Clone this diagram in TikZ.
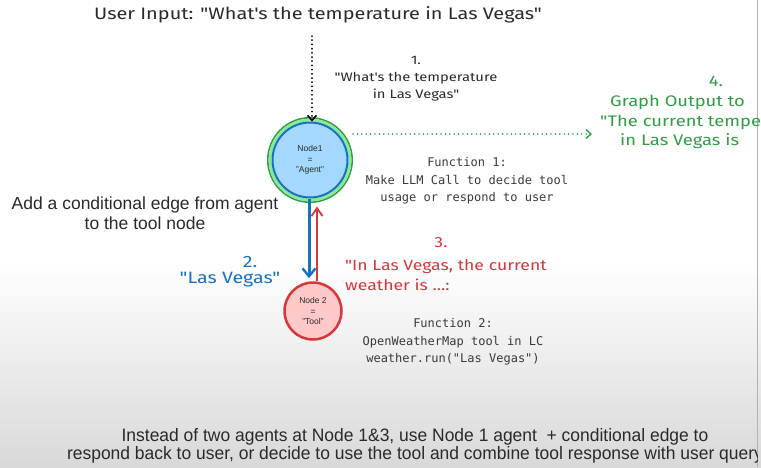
\documentclass[tikz,border=0pt]{standalone}
\usepackage{fontspec}
\setmainfont{Liberation Sans}
\newfontfamily\hand[FakeStretch=1.2]{Fira Sans}
\newfontfamily\monof{DejaVu Sans Mono}
\newfontfamily\narrowf[FakeStretch=0.97]{Liberation Sans}
\usetikzlibrary{arrows.meta}
\definecolor{exblue}{HTML}{1971C2}
\definecolor{exred}{HTML}{D6373A}
\definecolor{exgreen}{HTML}{2F9E44}
\definecolor{lightgreen}{HTML}{8CE99A}
\definecolor{agentfill}{HTML}{A5D8FF}
\definecolor{toolfill}{HTML}{FFC9C9}
\definecolor{inkgray}{HTML}{2A2A2A}
\definecolor{monogray}{HTML}{3A3A3A}
\tikzset{
  handtxt/.style={font=\hand\fontsize{#1}{#1}\selectfont, inner sep=0pt},
  monotxt/.style={font=\monof\fontsize{12}{17.5}\selectfont, text=monogray, align=center, inner sep=0pt},
  sanstxt/.style={font=\fontsize{17.5}{20}\selectfont, text=inkgray, align=center, inner sep=0pt},
  nodetxt/.style={font=\fontsize{8.5}{10.5}\selectfont, text=inkgray, align=center},
}
\begin{document}
\begin{tikzpicture}[x=1pt,y=-1pt]
\useasboundingbox (0,0) rectangle (761,467);
\fill[white] (0,0) rectangle (761,467);
\shade[top color=white, bottom color=black!15] (0,260) rectangle (761,467);
\draw[black!30, line width=1] (757.5,0) -- (757.5,467);

% title
\node[handtxt=16.6, text=inkgray] (title) at (318,15) {User Input: "What's the temperature in Las Vegas"};
% step 1 label
\node[handtxt=12.3, text=inkgray, align=center, font=\hand\fontsize{12.3}{17}\selectfont] (one) at (416,79) {1.\\"What's the temperature\\in Las Vegas"};
% step 4 label
\node[handtxt=15.3, text=exgreen] (four) at (716,81) {4.};
\node[handtxt=15.3, text=exgreen, anchor=west] (fourA) at (610,102) {Graph Output to};
\node[handtxt=15.3, text=exgreen, anchor=west] (fourB) at (600,122) {"The current tempe};
\node[handtxt=15.3, text=exgreen, anchor=west] (fourC) at (620,141) {in Las Vegas is};
% function 1
\node[monotxt] (f1) at (467,181) {Function 1:\\Make LLM Call to decide tool\\usage or respond to user};
% left text
\node[sanstxt] (cond) at (145,213) {Add a conditional edge from agent\\to the tool node};
% step 2
\node[handtxt=16.4, text=exblue] (two) at (250,262) {2.};
\node[handtxt=16.4, text=exblue] (twoB) at (230,280) {"Las Vegas"};
% step 3
\node[handtxt=14.7, text=exred] (three) at (441,243) {3.};
\node[handtxt=14.7, text=exred, anchor=west, align=left, font=\hand\fontsize{14.7}{19.5}\selectfont] (threeB) at (345,275) {"In Las Vegas, the current\\weather is ...:};
% function 2
\node[monotxt] (f2) at (453,342) {Function 2:\\OpenWeatherMap tool in LC\\weather.run("Las Vegas")};
% bottom text
\begin{scope}
\clip (0,0) rectangle (757,467);
\node[font=\narrowf\fontsize{18}{18.5}\selectfont, text=inkgray, align=center, inner sep=0pt] (bottom) at (415,446) {Instead of two agents at Node 1\&3, use Node 1 agent\ \ + conditional edge to\\respond back to user, or decide to use the tool and combine tool response with user query};
\end{scope}

% agent node
\draw[exgreen, line width=1.6] (310,160) circle[radius=42.2];
\draw[lightgreen, line width=3] (310,160) circle[radius=39.9];
\node[circle, draw=exblue, line width=2, fill=agentfill, minimum size=75pt, inner sep=0pt, nodetxt] (agent) at (310,160) {Node1\\=\\"Agent"};
% tool node
\node[circle, draw=exred, line width=2.5, fill=toolfill, minimum size=57pt, inner sep=0pt, nodetxt] (tool) at (313,311) {Node 2\\=\\"Tool"};

% connectors
\coordinate (inStart) at (312,36);
\draw[line width=2, dash pattern=on 0pt off 4.2pt, line cap=round, -{Straight Barb[length=5pt,width=9pt,line width=1.6pt]}] (inStart) -- ([xshift=2pt]agent.north);
\coordinate (outStart) at (353,134);
\coordinate (outEnd) at (592,134);
\draw[exgreen, line width=1.8, dash pattern=on 0pt off 4.4pt, line cap=round, -{Straight Barb[length=5pt,width=9pt,line width=1.4pt]}] (outStart) -- (outEnd);
\draw[exblue, line width=3, -{Straight Barb[length=8pt,width=13pt,line width=2.4pt]}, shorten >=3pt] ([xshift=-1pt]agent.south) -- ([xshift=-4pt]tool.north);
\draw[exred, line width=2, -{Straight Barb[length=8pt,width=11pt,line width=1.8pt]}, shorten >=8pt] ([xshift=4pt]tool.north) -- ([xshift=7pt]agent.south);
\end{tikzpicture}
\end{document}
